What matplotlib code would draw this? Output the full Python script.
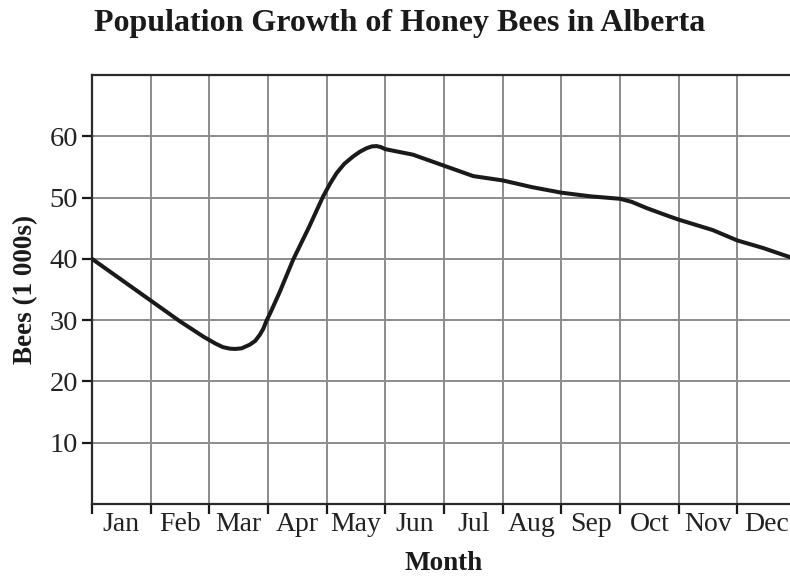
import numpy as np
import matplotlib.pyplot as plt


months = ["Jan", "Feb", "Mar", "Apr", "May", "Jun",
          "Jul", "Aug", "Sep", "Oct", "Nov", "Dec"]

# curve: month position (0 = start of Jan) and bees in 1 000s
curve_month = [0.0, 0.5, 1.0, 1.5, 1.9, 2.1, 2.23, 2.35, 2.44, 2.55, 2.69,
               2.78, 2.86, 2.92, 2.97, 3.05, 3.2, 3.43, 3.7, 3.94, 4.06,
               4.17, 4.3, 4.45, 4.57, 4.68, 4.77, 4.85, 4.92, 5.0,
               5.47, 6.0, 6.5, 7.0, 7.5, 8.0, 8.5, 9.0, 9.2, 9.45, 9.65,
               9.85, 10.0, 10.58, 11.0, 11.43, 11.89, 12.0]
curve_bees = [40.0, 36.6, 33.2, 29.8, 27.3, 26.2, 25.6, 25.35, 25.3, 25.4,
              26.0, 26.6, 27.6, 28.6, 29.8, 31.4, 34.6, 39.9, 45.2, 50.2,
              52.3, 54.0, 55.5, 56.7, 57.5, 58.05, 58.35, 58.4, 58.25, 57.9,
              57.0, 55.2, 53.5, 52.8, 51.7, 50.8, 50.2, 49.8, 49.3, 48.3,
              47.6, 46.9, 46.4, 44.7, 43.0, 41.8, 40.3, 40.0]

y_ticks = [10, 20, 30, 40, 50, 60]


def main():
    plt.rcParams["font.family"] = ["Liberation Serif", "DejaVu Serif"]

    fig = plt.figure(figsize=(7.9, 5.8), dpi=100)
    ax = fig.add_axes([92 / 790, 76 / 580, 704 / 790, 429 / 580])

    ax.plot(curve_month, curve_bees, color="#1a1a1a", linewidth=2.9,
            solid_capstyle="round", solid_joinstyle="round", zorder=3)

    ax.set_xlim(0, 12)
    ax.set_ylim(0, 70)

    # grid on month boundaries and every 10 000 bees
    ax.set_xticks(np.arange(0, 13))
    ax.set_xticklabels([])
    ax.set_xticks(np.arange(0.5, 12), minor=True)
    ax.set_xticklabels(months, minor=True)
    ax.set_yticks(y_ticks)
    ax.grid(True, which="major", color="#8c8c8c", linewidth=1.4)
    ax.set_axisbelow(True)

    ax.tick_params(axis="x", which="major", direction="out", length=7,
                   width=1.6, color="#1a1a1a")
    ax.tick_params(axis="x", which="minor", length=0, pad=6,
                   labelsize=20, labelcolor="#222222")
    ax.tick_params(axis="y", direction="out", length=7, width=1.6,
                   color="#1a1a1a", pad=3, labelsize=20.5, labelcolor="#222222")

    for side in ["left", "bottom", "top"]:
        ax.spines[side].set_linewidth(1.6)
        ax.spines[side].set_color("#2a2a2a")
    ax.spines["right"].set_visible(False)

    ax.set_xlabel("Month", fontsize=19.5, fontweight="bold", labelpad=10,
                  color="#1a1a1a")
    ax.set_ylabel("Bees (1 000s)", fontsize=19.5, fontweight="bold",
                  labelpad=8, color="#1a1a1a")

    fig.text(400 / 790, 1 - 24 / 580, "Population Growth of Honey Bees in Alberta",
             ha="center", va="center", fontsize=23, fontweight="bold",
             color="#1a1a1a")

    fig.savefig("out.png", dpi=100)
    plt.close(fig)


if __name__ == "__main__":
    main()
